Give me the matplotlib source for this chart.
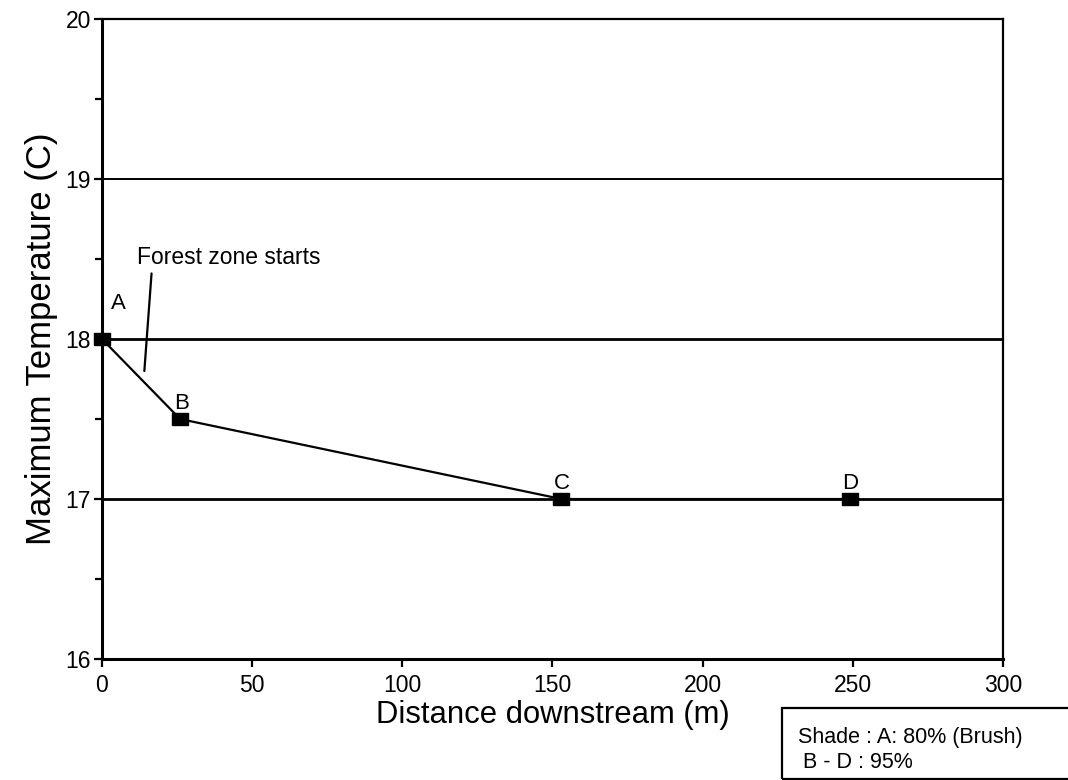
"""
Maximum stream temperature against distance downstream of the forest edge.
"""

from matplotlib import pyplot as plt
from matplotlib.patches import Rectangle

# site data
sites = ['A', 'B', 'C', 'D']
distance = [0, 26, 153, 249]
max_temp = [18.0, 17.5, 17.0, 17.0]

# pixel offsets of the site letters from their markers
label_offsets = [(16, 36), (1, 16), (0, 16), (0, 16)]

plt.rcParams['font.family'] = ['Liberation Sans', 'DejaVu Sans']

fig = plt.figure(figsize=[10.68, 7.8], dpi=100)
ax = fig.add_axes([0.0955, 0.1551, 0.8436, 0.8205])

ax.set_xlim(0, 300)
ax.set_ylim(16, 20)

# horizontal reference lines
for yv, lw in [(17, 2.0), (18, 2.0), (19, 1.4)]:
    ax.axhline(yv, color='black', linewidth=lw, zorder=1)

# slightly flattened square, as in the original
box_marker = [(-1, -0.75), (1, -0.75), (1, 0.75), (-1, 0.75), (-1, -0.75)]
ax.plot(distance, max_temp, color='black', linewidth=1.6, marker=box_marker,
        markersize=12, markerfacecolor='black', zorder=3, clip_on=False)

for name, x, y, off in zip(sites, distance, max_temp, label_offsets):
    ax.annotate(name, xy=(x, y), xytext=off, textcoords='offset pixels',
                ha='center', va='center', fontsize=16)

ax.text(11.7, 18.51, 'Forest zone starts', fontsize=16.5, ha='left', va='center')
ax.annotate('', xy=(14.1, 17.80), xytext=(16.5, 18.41),
            arrowprops=dict(arrowstyle='-', color='black', linewidth=1.6,
                            shrinkA=0, shrinkB=0))

ax.set_xticks(range(0, 301, 50))
ax.set_yticks([16, 17, 18, 19, 20])
ax.set_yticks([16.5, 17.5, 18.5, 19.5], minor=True)
ax.tick_params(axis='both', which='major', direction='out', length=6, width=1.6,
               labelsize=16.5, top=False, right=False)
ax.tick_params(axis='x', which='major', pad=5)
ax.tick_params(axis='y', which='major', pad=2)
ax.tick_params(axis='y', which='minor', direction='out', length=5, width=1.6)

for side in ['left', 'bottom']:
    ax.spines[side].set_linewidth(2.2)
for side in ['top', 'right']:
    ax.spines[side].set_linewidth(1.6)

ax.set_xlabel('Distance downstream (m)', fontsize=22.3, labelpad=2)
ax.set_ylabel('Maximum Temperature (C)', fontsize=25, labelpad=5)

# shading note box in the lower right corner
fig.patches.append(Rectangle((782 / 1068, 1 / 780), 0.3, 71 / 780,
                             transform=fig.transFigure, fill=False,
                             edgecolor='black', linewidth=1.6))
fig.text(798 / 1068, 1 - 737 / 780, 'Shade : A: 80% (Brush)', fontsize=15.5,
         ha='left', va='center')
fig.text(803 / 1068, 1 - 763 / 780, 'B - D : 95%', fontsize=15.5,
         ha='left', va='center')

plt.savefig('out.png')
